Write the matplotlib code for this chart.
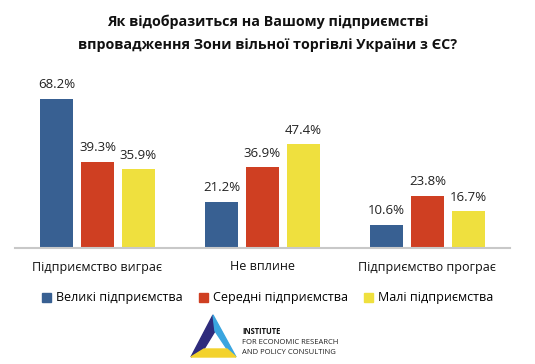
import matplotlib
matplotlib.use('Agg')
import matplotlib.pyplot as plt
from matplotlib.patches import Polygon, Patch
import numpy as np

plt.rcParams['font.family'] = ['Open Sans', 'DejaVu Sans']

# дані
categories = ['Підприємство виграє', 'Не вплине', 'Підприємство програє']
series_names = ['Великі підприємства', 'Середні підприємства', 'Малі підприємства']
large = [68.2, 21.2, 10.6]
medium = [39.3, 36.9, 23.8]
small = [35.9, 47.4, 16.7]
colors = ['#386092', '#cf3f22', '#efe03e']

W, H = 535, 364
fig = plt.figure(figsize=(W / 100, H / 100), dpi=100)
ax = fig.add_axes([15 / W, 1 - 248 / H, 495 / W, 175 / H])

x = np.arange(len(categories))
width = 0.2
step = 0.247
for i, (vals, col) in enumerate(zip([large, medium, small], colors)):
    pos = x + (i - 1) * step
    bars = ax.bar(pos, vals, width, color=col, label=series_names[i])
    for p, v in zip(pos, vals):
        ax.text(p, v + 3.5, '{:.1f}%'.format(v), ha='center', va='bottom',
                fontsize=9.5, color='#222222')

ax.set_xlim(-0.5, 2.5)
ax.set_ylim(0, 80)
ax.set_yticks([])
ax.set_xticks(x)
ax.set_xticklabels(categories, fontsize=9, color='#111111')
ax.tick_params(axis='x', length=0, pad=9)
for s in ['top', 'right', 'left']:
    ax.spines[s].set_visible(False)
ax.spines['bottom'].set_color('#c8c8c8')
ax.spines['bottom'].set_linewidth(1.5)

# заголовок
fig.text(0.5, 1 - 22 / H, 'Як відобразиться на Вашому підприємстві', ha='center', va='center',
         fontsize=10.3, fontweight='bold', color='#111111')
fig.text(0.5, 1 - 45 / H, 'впровадження Зони вільної торгівлі України з ЄС?', ha='center', va='center',
         fontsize=10.3, fontweight='bold', color='#111111')

# легенда
handles = [Patch(color=c) for c in colors]
fig.legend(handles, series_names, loc='center', bbox_to_anchor=(0.5, 1 - 298 / H), ncol=3,
           frameon=False, fontsize=9, handlelength=0.7, handleheight=0.7,
           handletextpad=0.4, columnspacing=1.3)

# логотип
def fp(px, py):
    return (px / W, 1 - py / H)

apex, bl, br = (213, 315), (191, 357), (236, 357)
iapex, ibl, ibr = (215, 331), (204, 349), (227, 349)
logo_parts = [
    ([apex, bl, ibl, iapex], '#2e2b7c'),
    ([apex, br, ibr, iapex], '#3aa5df'),
    ([bl, br, ibr, ibl], '#f3d22c'),
]
for pts, col in logo_parts:
    fig.add_artist(Polygon([fp(*p) for p in pts], closed=True, color=col,
                           transform=fig.transFigure))

fig.text(242 / W, 1 - 331 / H, 'INSTITUTE', fontsize=5.5, fontweight='bold',
         va='center', color='#111111')
fig.text(242 / W, 1 - 342 / H, 'FOR ECONOMIC RESEARCH', fontsize=5.5,
         va='center', color='#222222')
fig.text(242 / W, 1 - 352 / H, 'AND POLICY CONSULTING', fontsize=5.5,
         va='center', color='#222222')

fig.savefig('out.png', dpi=100)
